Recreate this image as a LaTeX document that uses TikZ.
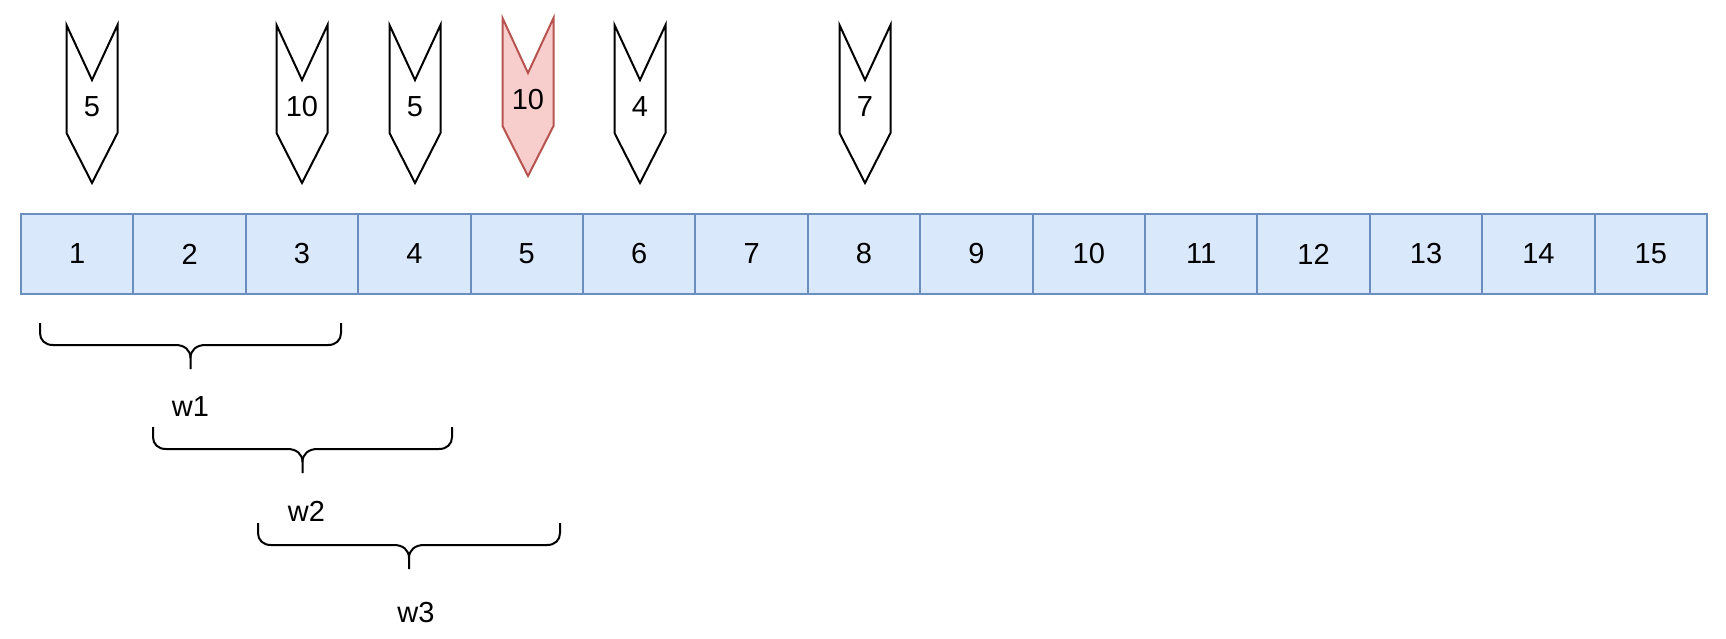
\documentclass[tikz,border=0pt]{standalone}
\usepackage{fontspec}
\setmainfont{Liberation Sans}
\usetikzlibrary{positioning}
\definecolor{cellfill}{HTML}{DAE8FC}
\definecolor{celldraw}{HTML}{6C8EBF}
\definecolor{hotfill}{HTML}{F8CECC}
\definecolor{hotdraw}{HTML}{B85450}
\tikzstyle{cell}=[draw=celldraw,fill=cellfill,line width=1pt,minimum width=56.2pt,minimum height=40pt,inner sep=0pt,outer sep=0pt,font=\fontsize{14.5}{17}\selectfont]
\tikzstyle{marker}=[draw=black,fill=white,line width=1pt,line join=miter]
\tikzstyle{marklabel}=[inner sep=0pt,font=\fontsize{14.5}{17}\selectfont]
\tikzstyle{brace}=[draw=black,line width=1pt]
\tikzstyle{wlabel}=[inner sep=0pt,font=\fontsize{14.5}{17}\selectfont]
\newcommand{\newCell}[3]{\node[cell,#3](#1){#2};}
\newcommand{\newMarker}[4]{\draw[marker,#4] #3 ++(-25.5,-82) -- ++(25.5,55) -- ++(25.5,-55) -- ++(0,108) -- ++(-25.5,50) -- ++(-25.5,-50) -- cycle;
  \node[marklabel](#1) at #3 {#2};}
\newcommand{\newBrace}[6]{\pgfmathsetmacro{\braceMid}{(#3+#4)/2}
  \draw[brace] (#3,#5) -- (#3,#5+10) .. controls (#3,#5+17) and (#3+5,#5+22) .. (#3+13,#5+22) -- (\braceMid-15,#5+22) .. controls (\braceMid-6,#5+22) and (\braceMid,#5+27) .. (\braceMid,#5+35) -- (\braceMid,#5+46);
  \draw[brace] (#4,#5) -- (#4,#5+10) .. controls (#4,#5+17) and (#4-5,#5+22) .. (#4-13,#5+22) -- (\braceMid+15,#5+22) .. controls (\braceMid+6,#5+22) and (\braceMid,#5+27) .. (\braceMid,#5+35);
  \node[wlabel,#6](#1) at (\braceMid,#5+84) {#2};}

\begin{document}
\begin{tikzpicture}[x=0.5pt,y=-0.5pt]
      \useasboundingbox (0,0) rectangle (1726,638);
      % the array
      \newCell{c1}{1}{anchor=north west,at={(21,214)}}
      \newCell{c2}{2}{right=0pt of c1}
      \newCell{c3}{3}{right=0pt of c2}
      \newCell{c4}{4}{right=0pt of c3}
      \newCell{c5}{5}{right=0pt of c4}
      \newCell{c6}{6}{right=0pt of c5}
      \newCell{c7}{7}{right=0pt of c6}
      \newCell{c8}{8}{right=0pt of c7}
      \newCell{c9}{9}{right=0pt of c8}
      \newCell{c10}{10}{right=0pt of c9}
      \newCell{c11}{11}{right=0pt of c10}
      \newCell{c12}{12}{right=0pt of c11}
      \newCell{c13}{13}{right=0pt of c12}
      \newCell{c14}{14}{right=0pt of c13}
      \newCell{c15}{15}{right=0pt of c14}
      % markers above
      \newMarker{m1}{5}{(92,107)}{}
      \newMarker{m3}{10}{(302,107)}{}
      \newMarker{m4}{5}{(415,107)}{}
      \newMarker{m5}{10}{(528,100)}{draw=hotdraw,fill=hotfill}
      \newMarker{m6}{4}{(640,107)}{}
      \newMarker{m8}{7}{(865,107)}{}
      % windows
      \newBrace{w1}{w1}{40}{341}{323}{}
      \newBrace{w2}{w2}{153}{452}{427}{xshift=2pt}
      \newBrace{w3}{w3}{258}{560}{523}{xshift=3.5pt,yshift=-3pt}
    \end{tikzpicture}
\end{document}
